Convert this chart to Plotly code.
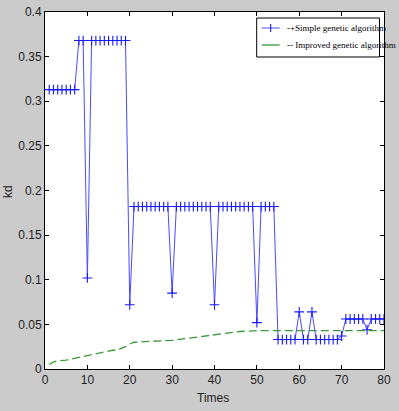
import plotly.graph_objects as go

# Simple genetic algorithm (one value per iteration 1..80)
simple_x = list(range(1, 81))
simple_y = (
    [0.313] * 7 +            # 1-7
    [0.368] * 2 +            # 8-9
    [0.102] +                # 10
    [0.368] * 9 +            # 11-19
    [0.072] +                # 20
    [0.182] * 9 +            # 21-29
    [0.085] +                # 30
    [0.182] * 9 +            # 31-39
    [0.072] +                # 40
    [0.182] * 9 +            # 41-49
    [0.052] +                # 50
    [0.182] * 4 +            # 51-54
    [0.033] * 5 +            # 55-59
    [0.064] +                # 60
    [0.033] * 2 +            # 61-62
    [0.064] +                # 63
    [0.033] * 6 +            # 64-69
    [0.037] +                # 70
    [0.056] * 5 +            # 71-75
    [0.044] +                # 76
    [0.056] * 4              # 77-80
)

# Improved genetic algorithm
improved_x = [1, 2, 3, 5, 7, 10, 13, 16, 17, 19, 20, 21, 25, 30, 33, 36, 40, 43, 46, 50, 55, 60, 70, 80]
improved_y = [0.005, 0.008, 0.009, 0.010, 0.012, 0.015, 0.018, 0.021, 0.021, 0.025, 0.028, 0.030,
              0.031, 0.032, 0.034, 0.036, 0.038, 0.040, 0.042, 0.043, 0.043, 0.043, 0.043, 0.043]

x_ticks = [0, 10, 20, 30, 40, 50, 60, 70, 80]
y_ticks = [0, 0.05, 0.1, 0.15, 0.2, 0.25, 0.3, 0.35, 0.4]
y_tick_labels = ["0", "0.05", "0.1", "0.15", "0.2", "0.25", "0.3", "0.35", "0.4"]

legend_names = ["-+Simple genetic algorithm", "-- Improved genetic algorithm"]

BLUE_LINE = "#4a4aff"
BLUE_MARK = "#1a1aff"
GREEN = "#3a9a3a"

W, H = 399, 411
ML, MR, MT, MB = 45, 14.5, 12, 42
PW, PH = W - ML - MR, H - MT - MB


def px(x):
    return (x - ML) / PW


def py(y):
    return (H - MB - y) / PH


fig = go.Figure()
fig.add_trace(go.Scatter(
    x=simple_x, y=simple_y, mode="lines+markers",
    name=legend_names[0], showlegend=False,
    line=dict(color=BLUE_LINE, width=1),
    marker=dict(symbol="cross-thin", size=7, line=dict(color=BLUE_MARK, width=1.1), color=BLUE_MARK),
))
fig.add_trace(go.Scatter(
    x=improved_x, y=improved_y, mode="lines",
    name=legend_names[1], showlegend=False,
    line=dict(color=GREEN, width=1.3, dash="8px,4px"),
))

# Manual legend (MATLAB style)
shapes = [
    dict(type="rect", xref="paper", yref="paper", x0=px(257), x1=px(380), y0=py(57), y1=py(18),
         fillcolor="white", line=dict(color="black", width=1), layer="above"),
    dict(type="line", xref="paper", yref="paper", x0=px(262), x1=px(280), y0=py(28), y1=py(28),
         line=dict(color=BLUE_LINE, width=1)),
    dict(type="line", xref="paper", yref="paper", x0=px(271), x1=px(271), y0=py(24), y1=py(32),
         line=dict(color=BLUE_MARK, width=1.1)),
    dict(type="line", xref="paper", yref="paper", x0=px(262), x1=px(280), y0=py(45), y1=py(45),
         line=dict(color=GREEN, width=1.3)),
]
legend_font = dict(family="Liberation Serif, Times New Roman", size=9, color="black")
annotations = [
    dict(text=legend_names[0], xref="paper", yref="paper", x=px(285), y=py(28), xanchor="left",
         yanchor="middle", showarrow=False, font=legend_font),
    dict(text=legend_names[1], xref="paper", yref="paper", x=px(285), y=py(45), xanchor="left",
         yanchor="middle", showarrow=False, font=legend_font),
    dict(text="Times", xref="paper", yref="paper", x=px(213), y=py(398), xanchor="center",
         yanchor="middle", showarrow=False,
         font=dict(family="Liberation Sans, Arial", size=12, color="#222")),
    dict(text="kd", xref="paper", yref="paper", x=px(8), y=py(192), xanchor="center",
         yanchor="middle", showarrow=False, textangle=-90,
         font=dict(family="Liberation Sans, Arial", size=12, color="#222")),
]

axis_common = dict(
    showgrid=False, zeroline=False, showline=True, linecolor="black", linewidth=1,
    mirror="ticks", ticks="inside", ticklen=4, tickcolor="black", automargin=False,
    tickfont=dict(family="Liberation Sans, Arial", size=12, color="#222"),
)
fig.update_layout(
    width=W, height=H,
    margin=dict(l=ML, r=MR, t=MT, b=MB, autoexpand=False),
    paper_bgcolor="#cbcbcb", plot_bgcolor="white",
    showlegend=False,
    shapes=shapes, annotations=annotations,
    xaxis=dict(range=[0, 80], tickvals=x_ticks, **axis_common),
    yaxis=dict(range=[0, 0.4], tickvals=y_ticks, ticktext=y_tick_labels, **axis_common),
)

fig.write_html("out.html")
